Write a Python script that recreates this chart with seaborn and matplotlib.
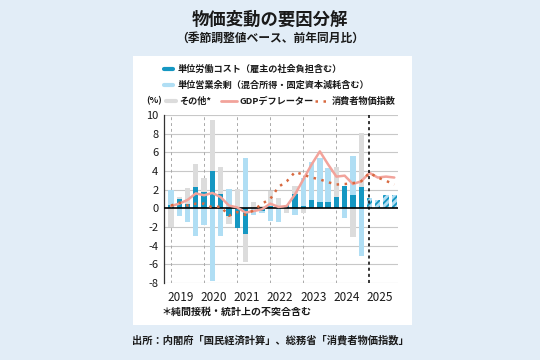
import numpy as np
import pandas as pd
import matplotlib
matplotlib.use("Agg")
import matplotlib.pyplot as plt
import seaborn as sns
from matplotlib.lines import Line2D
from matplotlib.patches import Rectangle

# ---------------- data ----------------
years = [2019, 2020, 2021, 2022, 2023, 2024, 2025]
year_labels = ["2019", "2020", "2021", "2022", "2023", "2024", "2025"]
quarters = [f"{y}Q{q}" for y in years for q in (1, 2, 3, 4)]

# actual (2019Q1-2024Q4)
unit_labor = [0.4, 1.0, 0.5, 2.3, 1.7, 4.0, 1.5, -0.8, -2.1, -2.7, 0.0, -0.3,
              0.25, 0.3, 0.35, 1.5, 0.3, 0.85, 0.65, 0.65, 1.25, 2.4, 1.4, 2.3]
unit_surplus = [1.6, -0.8, -1.5, -3.0, -1.8, -7.8, -3.0, 2.1, 0.0, 5.4, -0.75, -0.15,
                -1.4, -1.45, 0.0, -0.75, 2.9, 4.15, 4.75, 3.65, 0.0, -1.0, 4.2, -5.1]
other = [-2.0, 0.2, 1.7, 2.4, 1.5, 5.5, 2.9, -0.9, 2.1, -3.1, 0.7, 0.25,
         1.65, 0.8, -0.45, 0.85, -0.45, 0.0, 0.0, 0.0, 3.15, 0.0, -3.05, 5.8]
# 2025 (hatched)
unit_labor_2025 = [1.15, 0.9, 1.4, 1.4]

gdp_deflator = [0.25, 0.5, 0.9, 1.6, 1.4, 1.65, 1.2, 0.3, 0.1, -0.45, -0.3, -0.1,
                0.5, 0.15, 0.25, 1.5, 3.1, 4.7, 6.1, 4.7, 3.4, 3.5, 2.6, 2.9,
                3.8, 3.3, 3.4, 3.3]
cpi = [0.3, 0.6, 0.3, 0.5, 0.5, 0.1, 0.2, -0.8, -0.4, -0.7, -0.2, 0.5,
       1.0, 2.3, 2.9, 3.9, 3.6, 3.3, 3.1, 2.8, 2.55, 2.6, 2.7, 2.9,
       3.8, 3.3, 2.95, 2.55]

# ---------------- style ----------------
sns.set_theme(style="white")
plt.rcParams["font.family"] = ["Noto Sans CJK JP", "DejaVu Sans"]
plt.rcParams["hatch.linewidth"] = 1.3

C_DARK = "#1597c2"
C_LIGHT = "#b0def4"
C_GRAY = "#dcdcdc"
C_PINK = "#f2a39b"
C_CPI = "#d8693f"
BG = "#e2edf7"
TXT = "#1a1a1a"

W, H = 540, 360
fig = plt.figure(figsize=(5.4, 3.6), dpi=100, facecolor=BG)

def fx(x):
    return x / W

def fy(y):
    return 1 - y / H

# white panel
fig.add_artist(Rectangle((fx(133), fy(325)), fx(412) - fx(133), fy(56) - fy(325),
                         transform=fig.transFigure, facecolor="white",
                         edgecolor="none", zorder=0))

ax = fig.add_axes([fx(164), fy(283), fx(398) - fx(164), fy(115) - fy(283)])
ax.set_facecolor("none")

n_act = len(unit_labor)
idx_act = np.arange(n_act)
idx_all = np.arange(len(quarters))
bw = 0.64

# stacked bars (positives upward, negatives downward)
pos_base = np.zeros(n_act)
neg_base = np.zeros(n_act)
for vals, col in [(unit_labor, C_DARK), (unit_surplus, C_LIGHT), (other, C_GRAY)]:
    v = np.array(vals, dtype=float)
    bottoms = np.where(v >= 0, pos_base, neg_base)
    ax.bar(idx_act, v, bw, bottom=bottoms, color=col, linewidth=0, zorder=2)
    pos_base = pos_base + np.where(v > 0, v, 0)
    neg_base = neg_base + np.where(v < 0, v, 0)

idx_f = np.arange(n_act, n_act + len(unit_labor_2025))
ax.bar(idx_f, unit_labor_2025, bw, color=C_LIGHT, edgecolor=C_DARK,
       hatch="/////", linewidth=0, zorder=2)

df = pd.DataFrame({"i": idx_all, "gdp": gdp_deflator, "cpi": cpi})
sns.lineplot(data=df, x="i", y="gdp", ax=ax, color=C_PINK, linewidth=1.8, zorder=4)
sns.lineplot(data=df, x="i", y="cpi", ax=ax, color=C_CPI, linewidth=1.8,
             linestyle=(0, (1, 2.2)), zorder=5)

ax.axhline(0, color="black", linewidth=1.2, zorder=3)

# grid
ax.set_ylim(-8, 10)
ax.set_xlim(-0.85, 27.45)
ax.set_yticks(np.arange(-8, 11, 2))
ax.set_yticklabels([str(v) for v in range(-8, 11, 2)], fontsize=8, color=TXT)
for yv in range(-8, 11, 2):
    if yv != 0:
        ax.axhline(yv, color="#c8c8c8", linewidth=0.8, zorder=1)
for k in range(6):
    ax.axvline(4 * k, color="#aaaaaa", linewidth=0.7, linestyle=(0, (3, 3)), zorder=1)
ax.axvline(24, color="black", linewidth=1.1, linestyle=(0, (2, 2)), zorder=6)

ax.set_xticks([4 * k + 1.2 for k in range(len(years))])
ax.set_xticklabels(year_labels, fontsize=8.5, color=TXT)
ax.tick_params(axis="both", length=0, pad=4)
ax.tick_params(axis="x", pad=6)
ax.set_xlabel("")
ax.set_ylabel("")
for s in ["top", "right", "bottom"]:
    ax.spines[s].set_visible(False)
ax.spines["left"].set_color("#333333")
ax.spines["left"].set_linewidth(0.9)

# titles
fig.text(0.5, fy(20), "物価変動の要因分解", ha="center", va="center",
         fontsize=12.5, fontweight="bold", color=TXT)
fig.text(0.5, fy(38), "（季節調整値ベース、前年同月比）", ha="center", va="center",
         fontsize=8.5, fontweight="bold", color=TXT)

# legend
def leg_line(x0, x1, y, **kw):
    fig.add_artist(Line2D([fx(x0), fx(x1)], [fy(y), fy(y)],
                          transform=fig.transFigure, **kw))

lfs = 6.6
leg_line(164, 173, 69, color=C_DARK, linewidth=3)
fig.text(fx(178), fy(69), "単位労働コスト（雇主の社会負担含む）", ha="left", va="center",
         fontsize=lfs, fontweight="bold", color=TXT)
leg_line(164, 173, 85, color=C_LIGHT, linewidth=3)
fig.text(fx(178), fy(85), "単位営業余剰（混合所得・固定資本減耗含む）", ha="left", va="center",
         fontsize=lfs, fontweight="bold", color=TXT)
fig.text(fx(146), fy(101), "(%)", ha="left", va="center", fontsize=lfs,
         fontweight="bold", color=TXT)
leg_line(166, 176, 101, color=C_GRAY, linewidth=3)
fig.text(fx(179), fy(101), "その他*", ha="left", va="center", fontsize=lfs,
         fontweight="bold", color=TXT)
leg_line(221, 237, 101, color=C_PINK, linewidth=2)
fig.text(fx(240), fy(101), "GDPデフレーター", ha="left", va="center", fontsize=lfs,
         fontweight="bold", color=TXT)
leg_line(315, 328, 101, color=C_CPI, linewidth=1.8, linestyle=(0, (1, 2.2)))
fig.text(fx(332), fy(101), "消費者物価指数", ha="left", va="center", fontsize=lfs,
         fontweight="bold", color=TXT)

# notes
fig.text(fx(161), fy(312), "＊純間接税・統計上の不突合含む", ha="left", va="center",
         fontsize=7.2, fontweight="bold", color=TXT)
fig.text(0.5, fy(340), "出所：内閣府「国民経済計算」、総務省「消費者物価指数」",
         ha="center", va="center", fontsize=7.4, fontweight="bold", color=TXT)

fig.savefig("out.png", dpi=100, facecolor=BG)
